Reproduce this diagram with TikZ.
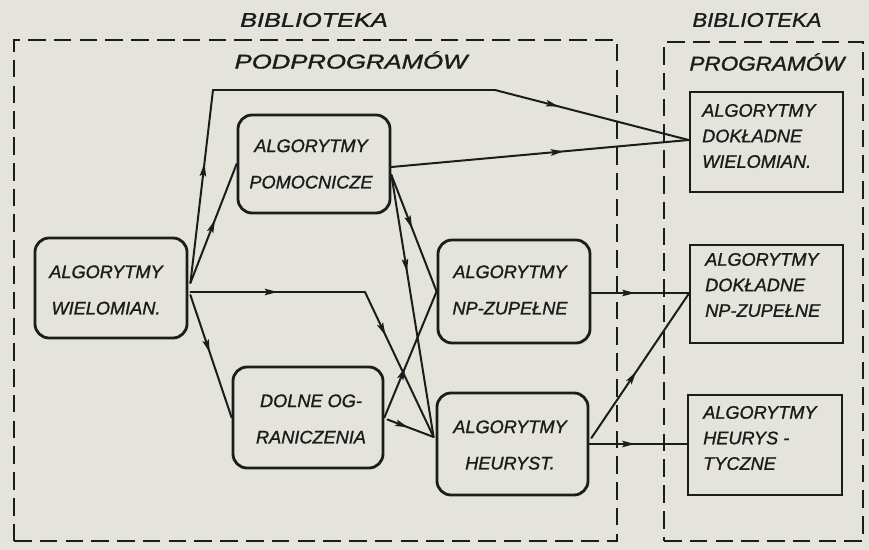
\documentclass[tikz,border=0pt]{standalone}
\usepackage{fontspec}
\setmainfont{Liberation Sans}[ItalicFeatures={FakeBold=1.2}]
\usetikzlibrary{arrows.meta,decorations.markings,fit,calc}
\definecolor{paper}{RGB}{228,228,220}
\definecolor{ink}{RGB}{28,28,28}
\tikzset{
  rbox/.style={draw=ink, line width=2.4pt, rounded corners=12pt, inner sep=0pt},
  sbox/.style={draw=ink, line width=2.4pt, inner sep=0pt},
  frame/.style={draw=ink, line width=2.2pt, dash pattern=on 15pt off 7pt, inner sep=0pt},
  ctext/.style={font=\fontsize{15.5pt}{31pt}\selectfont\itshape, align=center, inner sep=0pt, text=ink},
  ltext/.style={font=\fontsize{15.5pt}{21.8pt}\selectfont\itshape, align=left, inner sep=0pt, text=ink, anchor=west},
  ttext/.style={font=\fontsize{17pt}{20pt}\selectfont\itshape, inner sep=0pt, text=ink},
  conn/.style={draw=ink, line width=1.7pt, line cap=round},
  arr/.style={conn, postaction={decorate}, decoration={markings, mark=at position #1 with {\arrow{Stealth[length=11pt,width=5.5pt,inset=2pt]}}}},
  arr/.default=0.5
}
\begin{document}
\begin{tikzpicture}[x=0.3mm,y=-0.3mm]
\path[fill=paper, use as bounding box] (0,0) rectangle (869,550);

% containers
\node[frame, fit={(14,40) (617,541)}] (lib1) {};
\node[frame, fit={(664,42) (863,541)}] (lib2) {};

% titles
\node[ttext] (ti1) at (314,20) {\scalebox{1.27}[1]{BIBLIOTEKA}};
\node[ttext] (ti2) at (351,60) {\scalebox{1.29}[1]{PODPROGRAMÓW}};
\node[ttext] (ti3) at (757,20) {\scalebox{1.11}[1]{BIBLIOTEKA}};
\node[ttext] (ti4) at (767,62) {\scalebox{1.13}[1]{PROGRAMÓW}};

% rounded boxes
\node[rbox, fit={(35,238) (187,338)}] (aw) {};
\node[rbox, fit={(238,115) (390,213)}] (ap) {};
\node[rbox, fit={(233,367) (383,468)}] (do) {};
\node[rbox, fit={(438,240) (590,343)}] (np) {};
\node[rbox, fit={(437,393) (588,495)}] (ah) {};

% sharp boxes
\node[sbox, fit={(690,92) (843,192)}] (adw) {};
\node[sbox, fit={(690,245) (843,343)}] (adnp) {};
\node[sbox, fit={(688,395) (842,495)}] (aht) {};

% texts
\node[ctext] (t-aw) at (106,290) {ALGORYTMY\\WIELOMIAN.};
\node[ctext] (t-ap) at (311,164) {ALGORYTMY\\POMOCNICZE};
\node[ctext] (t-do) at (311,419) {DOLNE OG-\\RANICZENIA};
\node[ctext] (t-np) at (510,290) {ALGORYTMY\\NP-ZUPEŁNE};
\node[ctext] (t-ah) at (510,445) {ALGORYTMY\\HEURYST.};
\node[ltext] (t-adw) at (702,136) {ALGORYTMY\\DOKŁADNE\\WIELOMIAN.};
\node[ltext] (t-adnp) at (705,285) {ALGORYTMY\\DOKŁADNE\\NP-ZUPEŁNE};
\node[ltext] (t-aht) at (703,438) {ALGORYTMY\\HEURYS -\\TYCZNE};

% bend points
\coordinate (c1) at (213,90);
\coordinate (c2) at (495,90);
\coordinate (c3) at (365,292);
\coordinate (awup) at ($(aw.east)+(2,-5)$);
\coordinate (awmid) at ($(aw.east)+(2,4)$);
\coordinate (awdn) at ($(aw.east)+(2,7)$);
\coordinate (adwin) at ($(adw.west)+(0,-2)$);
\coordinate (apout) at ($(ap.east)+(0,11)$);
\coordinate (ahin) at ($(ah.west)+(-2,-7)$);
\coordinate (npout) at ($(np.east)+(0,1.5)$);
\coordinate (adnpin) at (npout -| adnp.west);
\coordinate (ahout) at (ah.east);
\coordinate (ahtin) at (ahout -| aht.west);

% connectors
\draw[arr=0.62] (awup) -- (c1);
\draw[conn] (c1) -- (c2);
\draw[arr=0.33] (c2) -- (adwin);
\draw[arr=0.53] (awup) -- (ap.west);
\draw[arr=0.58] ($(ap.east)+(0,3)$) -- (adwin);
\draw[arr=0.5] (awmid) -- (c3);
\draw[arr=0.3] (c3) -- (ahin);
\draw[arr=0.47] (awdn) -- (do.west);
\draw[arr=0.46] (apout) -- (np.west);
\draw[arr=0.37] (apout) -- (ahin);
\draw[arr=0.4] (do.east) -- (np.west);
\draw[arr=0.45] ($(do.east)+(3,2)$) -- (ahin);
\draw[arr=0.45] (npout) -- (adnpin);
\draw[arr=0.46] ($(ah.east)+(2,-6)$) -- (adnp.west);
\draw[arr=0.47] (ahout) -- (ahtin);
\end{tikzpicture}
\end{document}
